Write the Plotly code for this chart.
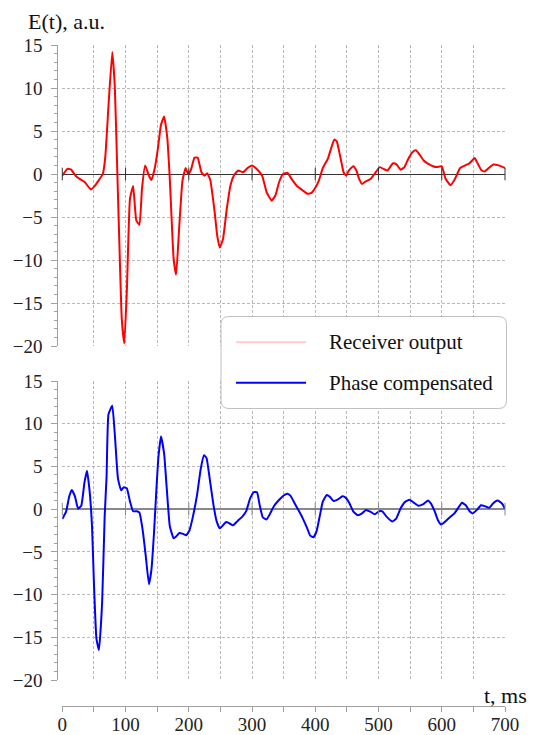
import plotly.graph_objects as go

# Receiver output, E(t) in arbitrary units vs time in ms
t_receiver = [0, 8, 14, 21, 28, 35, 45, 50, 57, 64, 68, 73, 79, 83, 87, 90, 94, 98, 102, 107,
              112, 117, 122, 126, 131, 137, 141, 146, 151, 156, 161, 166, 170, 176, 180, 185, 190,
              195, 199, 203, 209, 214, 220, 225, 229, 234, 241, 245, 249, 254, 260, 266, 272, 278,
              286, 293, 300, 307, 316, 323, 331, 337, 343, 349, 356, 362, 371, 380, 388, 394, 400,
              406, 412, 420, 426, 430, 434, 439, 445, 449, 453, 460, 465, 469, 474, 480, 488, 494,
              502, 509, 514, 523, 528, 535, 541, 547, 554, 559, 564, 571, 578, 586, 592, 600, 606,
              614, 621, 629, 637, 644, 652, 657, 663, 668, 676, 682, 690, 700]
e_receiver = [-0.2, 0.6, 0.5, -0.2, -0.6, -0.9, -1.8, -1.5, -0.8, 0.0, 2.0, 7.9, 14.2, 10.2, 0.2, -7.5,
              -16.8, -19.7, -13.7, -2.9, -1.4, -5.4, -5.9, -1.7, 1.0, -0.2, -0.7, 0.6, 2.9, 5.7, 6.7,
              4.2, -0.6, -9.8, -11.7, -6.0, -0.8, 0.7, 0.0, 0.4, 1.9, 1.9, 0.2, -0.2, 0.1, -0.7,
              -4.5, -7.2, -8.55, -7.6, -4.1, -1.3, -0.1, 0.4, 0.2, 0.7, 1.0, 0.6, -0.2, -2.1, -3.1,
              -2.5, -0.9, 0.0, 0.15, -0.5, -1.4, -1.9, -2.3, -2.2, -1.6, -0.7, 0.7, 1.8, 3.2, 4.0,
              3.8, 2.2, 0.15, -0.2, 0.4, 0.9, 0.4, -0.5, -1.15, -0.85, -0.55, 0.05, 0.8, 0.55, 0.4,
              1.25, 1.15, 0.5, 0.8, 1.75, 2.55, 2.75, 2.35, 1.6, 1.2, 0.9, 0.8, 0.9, -0.55, -1.3,
              -0.55, 0.7, 1.0, 1.25, 1.85, 1.2, 0.4, 0.3, 0.8, 1.1, 1.0, 0.7]

# Phase-compensated signal
t_phase = [0, 6, 11, 15, 20, 25, 30, 35, 39, 43, 47, 50, 54, 58, 63, 67, 70, 73, 79, 83, 88, 93, 97,
           102, 107, 112, 118, 122, 127, 132, 137, 141, 145, 149, 152, 156, 161, 165, 170, 176, 180,
           185, 191, 196, 201, 206, 213, 219, 224, 228, 233, 239, 244, 249, 254, 259, 264, 270, 277,
           285, 291, 297, 303, 308, 312, 317, 323, 328, 335, 343, 350, 356, 361, 368, 374, 380, 387,
           392, 397, 402, 407, 412, 418, 423, 429, 436, 443, 448, 454, 460, 467, 474, 480, 487, 494,
           501, 506, 513, 522, 528, 535, 542, 549, 555, 563, 570, 578, 583, 589, 594, 599, 604, 612,
           620, 626, 632, 638, 644, 649, 656, 662, 668, 675, 681, 688, 692, 696, 700]
e_phase = [-1.15, -0.3, 1.5, 2.25, 1.5, 0.05, 0.4, 3.1, 4.5, 2.25, -2.0, -8.6, -15.2, -16.5, -10.9,
           -0.85, 3.8, 11.1, 12.1, 8.8, 3.6, 2.2, 2.55, 2.45, 0.9, -0.25, -0.25, -0.4, -2.4, -5.5,
           -8.8, -7.05, -2.8, 2.6, 6.1, 8.5, 6.5, 2.6, -2.0, -3.4, -3.2, -2.8, -2.9, -3.05, -2.5,
           -1.05, 1.65, 4.75, 6.3, 6.0, 3.6, 0.5, -1.4, -2.25, -1.9, -1.5, -1.65, -1.9, -1.4, -0.85,
           -0.2, 1.25, 2.0, 1.95, 0.5, -0.95, -1.2, -0.6, 0.4, 1.1, 1.6, 1.8, 1.55, 0.6, -0.2, -1.05,
           -2.2, -3.1, -3.3, -2.6, -0.85, 0.9, 1.65, 1.45, 0.95, 1.15, 1.5, 1.35, 0.7, -0.25, -0.7,
           -0.5, -0.1, -0.3, -0.6, -0.25, -0.25, -0.9, -1.45, -1.1, 0.1, 0.85, 1.1, 0.8, 0.4, 0.55,
           1.0, 0.65, -0.3, -1.3, -1.8, -1.55, -1.0, -0.5, 0.15, 0.75, 0.45, -0.25, -0.5, -0.05,
           0.45, 0.35, 0.15, 0.65, 1.0, 0.85, 0.6, 0.05]

assert len(t_receiver) == len(e_receiver)
assert len(t_phase) == len(e_phase)

# Marks along each zero line
zero_ticks = [0, 100, 200, 300, 400, 500, 600, 700]
series_names = ["Receiver output", "Phase compensated"]

W, H = 533, 735
FONT = "Liberation Serif"
GRID = "#b8b8b8"
AXIS = "#a0a0a0"


def px(x):
    return x / W


def py(y):
    return 1 - y / H


fig = go.Figure()

fig.add_trace(go.Scatter(x=t_receiver, y=e_receiver, mode="lines", xaxis="x", yaxis="y",
                         line=dict(color="#ff0000", width=2, shape="spline", smoothing=0.4),
                         name=series_names[0], showlegend=False))
fig.add_trace(go.Scatter(x=t_phase, y=e_phase, mode="lines", xaxis="x2", yaxis="y2",
                         line=dict(color="#0000ff", width=2, shape="spline", smoothing=0.4),
                         name=series_names[1], showlegend=False))

for xa, ya, col in (("x", "y", "#333333"), ("x2", "y2", "#888888")):
    fig.add_trace(go.Scatter(x=zero_ticks, y=[0] * len(zero_ticks), mode="markers",
                             xaxis=xa, yaxis=ya, cliponaxis=False, hoverinfo="skip",
                             showlegend=False,
                             marker=dict(symbol="line-ns", size=9,
                                         line=dict(width=1, color=col))))

x_dom = [px(62.3), px(505)]
top_dom = [py(346), py(45)]
bot_dom = [py(680), py(381)]

common_y = dict(range=[-20, 15], dtick=5, tick0=0, anchor="free", position=px(57.3),
                automargin=False,
                showline=True, linecolor=AXIS, linewidth=1,
                ticks="outside", ticklen=6, tickcolor=AXIS, tickwidth=1,
                ticklabelstandoff=5,
                minor=dict(dtick=1, ticks="outside", ticklen=3, tickcolor=AXIS, showgrid=False),
                showgrid=True, gridcolor=GRID, gridwidth=1, griddash="3px,2px",
                tickfont=dict(family=FONT, size=19, color="#222222"))

fig.update_layout(
    width=W, height=H,
    margin=dict(l=0, r=0, t=0, b=0, autoexpand=False),
    paper_bgcolor="white", plot_bgcolor="white",
    showlegend=False,
    xaxis=dict(domain=x_dom, anchor="y", range=[0, 700], dtick=50, automargin=False,
               showticklabels=False, ticks="", showline=False, zeroline=False,
               showgrid=True, gridcolor=GRID, gridwidth=1, griddash="3px,2px"),
    yaxis=dict(domain=top_dom, zeroline=True, zerolinecolor="#333333", zerolinewidth=1,
               **common_y),
    xaxis2=dict(domain=x_dom, anchor="free", position=py(705.7), range=[0, 700],
                automargin=False,
                dtick=100, tick0=0, showline=True, linecolor=AXIS, linewidth=1,
                ticks="outside", ticklen=5, tickcolor=AXIS,
                minor=dict(dtick=50, ticks="outside", ticklen=5, tickcolor=AXIS,
                           showgrid=True, gridcolor=GRID, gridwidth=1, griddash="3px,2px"),
                zeroline=False, ticklabelstandoff=-4,
                showgrid=True, gridcolor=GRID, gridwidth=1, griddash="3px,2px",
                tickfont=dict(family=FONT, size=19, color="#222222")),
    yaxis2=dict(domain=bot_dom, zeroline=True, zerolinecolor="#888888", zerolinewidth=2,
                **common_y),
)

# Axis titles
fig.add_annotation(text="E(t), a.u.", xref="paper", yref="paper", x=px(26), y=py(21),
                   xanchor="left", yanchor="middle", showarrow=False,
                   font=dict(family=FONT, size=22, color="#111111"))
fig.add_annotation(text="t, ms", xref="paper", yref="paper", x=px(529), y=py(695),
                   xanchor="right", yanchor="middle", showarrow=False,
                   font=dict(family=FONT, size=22, color="#111111"))

# Legend box with rounded corners
x0, x1, y0, y1, r = 221, 506.5, 316.5, 408.5, 8
rx, ry = r / W, r / H
X0, X1, Y0, Y1 = px(x0), px(x1), py(y0), py(y1)
path = (f"M{X0 + rx},{Y0} L{X1 - rx},{Y0} Q{X1},{Y0} {X1},{Y0 - ry} "
        f"L{X1},{Y1 + ry} Q{X1},{Y1} {X1 - rx},{Y1} L{X0 + rx},{Y1} "
        f"Q{X0},{Y1} {X0},{Y1 + ry} L{X0},{Y0 - ry} Q{X0},{Y0} {X0 + rx},{Y0} Z")
fig.add_shape(type="path", path=path, xref="paper", yref="paper", layer="above",
              fillcolor="white", line=dict(color="#c0c0c0", width=1))

legend_rows = [(342.3, "rgba(255,0,0,0.2)"), (382.7, "#0000ff")]
for (yy, col), label in zip(legend_rows, series_names):
    fig.add_shape(type="line", xref="paper", yref="paper", layer="above",
                  x0=px(236), x1=px(306), y0=py(yy), y1=py(yy),
                  line=dict(color=col, width=2))
    fig.add_annotation(text=label, xref="paper", yref="paper", x=px(327), y=py(yy),
                       xanchor="left", yanchor="middle", showarrow=False,
                       font=dict(family=FONT, size=21, color="#111111"))

fig.write_html("out.html")
